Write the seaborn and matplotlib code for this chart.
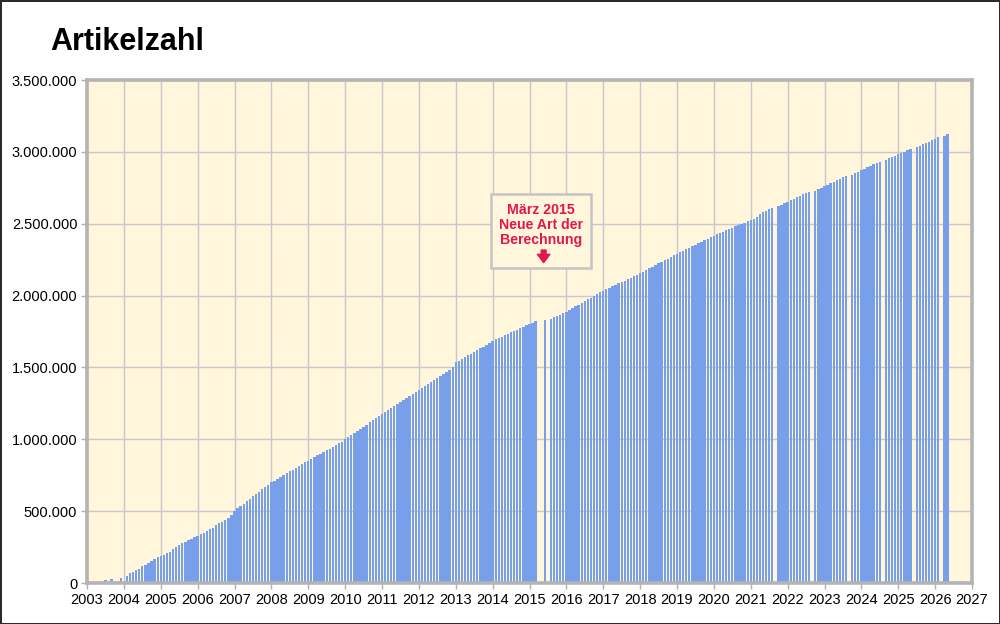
import numpy as np
import pandas as pd
import matplotlib
matplotlib.use('Agg')
import matplotlib.pyplot as plt
import matplotlib.patches as patches
import seaborn as sns

nan = np.nan

# Artikelzahl in Tausend, je Jahr 12 Monatswerte (nan = kein Wert)
jahre = list(range(2003, 2027))
w2003 = [nan, nan, nan, nan, nan, nan, 18, nan, 28, nan, nan, 37]
w2004 = [nan, 48, 68, 78, 88, 100, 115, 128, 138, 150, 166, 178]
w2005 = [190, 198, 206, 218, 234, 250, 263, 276, 286, 296, 307, 317]
w2006 = [328, 338, 351, 363, 375, 386, 401, 415, 425, 441, 455, 470]
w2007 = [502, 520, 536, 552, 569, 585, 602, 618, 635, 651, 668, 684]
w2008 = [701, 713, 726, 738, 751, 764, 776, 789, 801, 814, 827, 839]
w2009 = [852, 864, 876, 888, 900, 912, 924, 936, 948, 960, 972, 984]
w2010 = [1003, 1017, 1031, 1045, 1060, 1074, 1089, 1103, 1118, 1133, 1147, 1162]
w2011 = [1177, 1191, 1205, 1219, 1233, 1247, 1261, 1274, 1288, 1302, 1316, 1330]
w2012 = [1344, 1357, 1370, 1383, 1396, 1410, 1424, 1438, 1452, 1466, 1480, 1500]
w2013 = [1536, 1548, 1560, 1572, 1584, 1596, 1608, 1620, 1632, 1645, 1657, 1670]
w2014 = [1685, 1695, 1705, 1715, 1724, 1734, 1744, 1754, 1763, 1773, 1783, 1793]
w2015 = [1803, 1812, 1822, nan, nan, 1831, nan, 1840, 1848, 1858, 1868, 1878]
w2016 = [1888, 1900, 1912, 1925, 1937, 1949, 1961, 1974, 1986, 1998, 2010, 2023]
w2017 = [2035, 2045, 2055, 2065, 2075, 2085, 2095, 2105, 2115, 2126, 2136, 2146]
w2018 = [2156, 2167, 2179, 2190, 2201, 2212, 2224, 2235, 2246, 2257, 2269, 2280]
w2019 = [2291, 2302, 2312, 2323, 2333, 2344, 2355, 2365, 2376, 2386, 2397, 2408]
w2020 = [2418, 2427, 2436, 2445, 2454, 2463, 2472, 2481, 2490, 2499, 2508, 2517]
w2021 = [2527, 2536, 2545, 2570, 2581, 2592, 2602, 2613, nan, 2622, 2632, 2642]
w2022 = [2652, 2663, 2673, 2683, 2693, 2704, 2714, 2724, nan, 2731, 2741, 2751]
w2023 = [2761, 2772, 2782, 2792, 2802, 2813, 2823, 2833, nan, 2842, 2852, 2862]
w2024 = [2872, 2882, 2893, 2903, 2913, 2923, 2933, nan, 2945, 2955, 2964, 2974]
w2025 = [2983, 2993, 3002, 3012, 3021, nan, 3032, 3042, 3052, 3062, 3072, 3082]
w2026 = [3092, 3102, nan, 3111, 3123, nan, nan, nan, nan, nan, nan, nan]

alle = [w2003, w2004, w2005, w2006, w2007, w2008, w2009, w2010, w2011, w2012,
        w2013, w2014, w2015, w2016, w2017, w2018, w2019, w2020, w2021, w2022,
        w2023, w2024, w2025, w2026]

datum = [j + m / 12 for j, w in zip(jahre, alle) for m in range(12)]
artikel = [v * 1000 for w in alle for v in w]
df = pd.DataFrame({'datum': datum, 'artikel': artikel}).dropna()

plt.rcParams['font.family'] = ['Liberation Sans', 'DejaVu Sans']

fig = plt.figure(figsize=(10, 6.24), dpi=100)
fig.patch.set_facecolor('white')
fig.patch.set_edgecolor('#2a2a2a')
fig.patch.set_linewidth(2)

ax = fig.add_axes([0.087, 0.0657, 0.885, 0.806])
ax.set_facecolor('#fff6dc')

sns.barplot(data=df, x='datum', y='artikel', native_scale=True, width=0.76,
            color='#78a0ea', saturation=1, errorbar=None, ax=ax)

ax.set_xlim(2003, 2027)
ax.set_ylim(0, 3500000)
ax.set_xticks(range(2003, 2028))
ax.set_xticklabels([str(j) for j in range(2003, 2028)])
yt = np.arange(0, 3500001, 500000)
ax.set_yticks(yt)
ax.set_yticklabels([f'{v:,.0f}'.replace(',', '.') for v in yt])
ax.set_xlabel('')
ax.set_ylabel('')

ax.set_axisbelow(True)
ax.grid(True, color='#c8c8c8', linewidth=1)
for s in ax.spines.values():
    s.set_color('#b4b4b4')
    s.set_linewidth(2.6)
ax.tick_params(axis='both', colors='#b0b0b0', length=4, width=1,
               labelcolor='black', labelsize=10.5, pad=3)

# Hinweis auf die neue Berechnung
rot = '#e2174d'
ax.add_patch(patches.Rectangle((0.456, 0.6256), 0.114, 0.1478, transform=ax.transAxes,
                               facecolor='#fff6dc', edgecolor='#c4c4c4', linewidth=1.8,
                               zorder=5))
ax.text(0.5133, 0.712, 'März 2015\nNeue Art der\nBerechnung', transform=ax.transAxes,
        ha='center', va='center', color=rot, fontsize=10.2, fontweight='bold',
        linespacing=1.12, zorder=6)
ax.annotate('', xy=(0.516, 0.637), xytext=(0.516, 0.662), xycoords='axes fraction',
            arrowprops=dict(arrowstyle='simple,head_width=0.9,head_length=0.6,tail_width=0.35',
                            color=rot, mutation_scale=10, shrinkA=0, shrinkB=0),
            zorder=6)

fig.text(0.05, 1 - 50 / 624, 'Artikelzahl', fontsize=22, fontweight='bold',
         ha='left', va='baseline')

fig.savefig('out.png', dpi=100)
